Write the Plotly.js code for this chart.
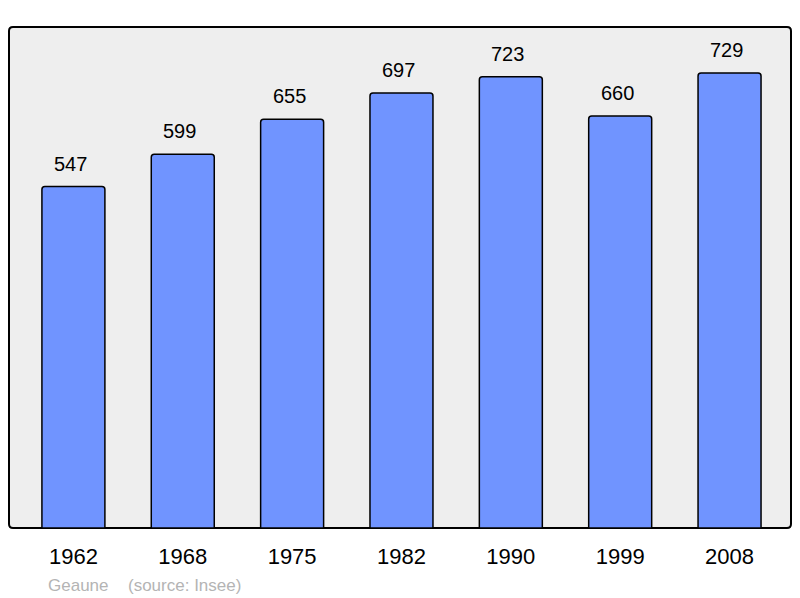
<!DOCTYPE html>
<html>
<head>
<meta charset="utf-8">
<script src="https://cdn.plot.ly/plotly-3.0.1.min.js"></script>
<style>
  body { margin: 0; background: #fff; }
  #chart { width: 800px; height: 598px; }
</style>
</head>
<body>
<div id="chart"></div>
<script>
var years = ["1962", "1968", "1975", "1982", "1990", "1999", "2008"];
var population = [547, 599, 655, 697, 723, 660, 729];
var commune = "Geaune";
var source = "(source: Insee)";

var positions = [];
for (var i in years) {
    positions.push(parseInt(i));
}

var trace = {
    x: positions,
    y: population,
    type: "bar",
    width: 0.576,
    hoverinfo: "none",
    marker: {
        color: "#7094ff",
        line: {color: "#000", width: 1.5},
        cornerradius: 3
    }
};

// value labels above the bars
var notes = [];
for (var j in population) {
    notes.push({
        x: positions[j],
        y: population[j],
        xref: "x",
        yref: "y",
        text: String(population[j]),
        showarrow: false,
        yanchor: "bottom",
        yshift: 10,
        xshift: -3,
        font: {family: "Liberation Sans, Arial, sans-serif", size: 20, color: "#000"}
    });
}

// footer
var pw = 782, ph = 501;
notes.push({
    x: 37 / pw, y: -57 / ph, xref: "paper", yref: "paper",
    xanchor: "left", yanchor: "middle", showarrow: false,
    text: commune,
    font: {family: "Liberation Sans, Arial, sans-serif", size: 17, color: "#b4b4b4"}
});
notes.push({
    x: 117 / pw, y: -57 / ph, xref: "paper", yref: "paper",
    xanchor: "left", yanchor: "middle", showarrow: false,
    text: source,
    font: {family: "Liberation Sans, Arial, sans-serif", size: 17, color: "#b4b4b4"}
});

// plot frame with slightly rounded corners
var rx = 4 / pw, ry = 4 / ph;
var frame = "M " + rx + " 0 L " + (1 - rx) + " 0 Q 1 0 1 " + ry +
    " L 1 " + (1 - ry) + " Q 1 1 " + (1 - rx) + " 1" +
    " L " + rx + " 1 Q 0 1 0 " + (1 - ry) +
    " L 0 " + ry + " Q 0 0 " + rx + " 0 Z";

var layout = {
    width: 800,
    height: 598,
    margin: {l: 9, r: 9, t: 27, b: 70},
    paper_bgcolor: "#fff",
    plot_bgcolor: "rgba(0,0,0,0)",
    showlegend: false,
    font: {family: "Liberation Sans, Arial, sans-serif", color: "#000"},
    xaxis: {
        range: [-0.589, 6.562],
        tickvals: positions,
        ticktext: years,
        ticks: "",
        ticklabelstandoff: 13,
        showgrid: false,
        zeroline: false,
        showline: false,
        tickfont: {size: 22, color: "#000"},
        fixedrange: true
    },
    yaxis: {
        range: [0, 802.7],
        showticklabels: false,
        showgrid: false,
        zeroline: false,
        showline: false,
        fixedrange: true
    },
    shapes: [{
        type: "path",
        xref: "paper",
        yref: "paper",
        path: frame,
        fillcolor: "#eeeeee",
        line: {color: "#000", width: 2},
        layer: "below"
    }],
    annotations: notes
};

Plotly.newPlot("chart", [trace], layout, {displayModeBar: false, staticPlot: true});
</script>
</body>
</html>
